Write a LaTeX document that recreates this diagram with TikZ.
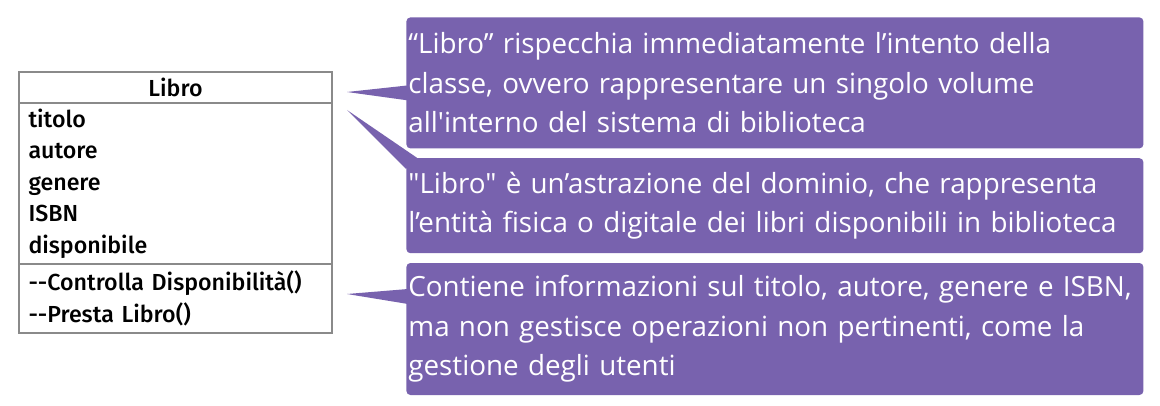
\documentclass[tikz,border=0pt]{standalone}
\usepackage{fontspec}
\usepackage{xcolor}
\usepackage{tikz}
\usetikzlibrary{positioning,calc}
\setmainfont{Open Sans}[Ligatures=TeXOff]
\newfontfamily\umlfont{Fira Sans Medium}[Ligatures=TeXOff]
\definecolor{notepurple}{HTML}{7862AE}
\definecolor{umlline}{HTML}{8A8A8A}

\begin{document}
\begin{tikzpicture}[x=0.5pt,y=-0.5pt,
  umlpart/.style={draw=umlline,line width=0.6pt,outer sep=0pt,minimum width=156.5pt,text width=147pt,inner xsep=4.5pt,inner ysep=0pt,align=left,font=\umlfont\fontsize{11.6}{15.75}\selectfont},
  note/.style={fill=notepurple,rounded corners=2pt,text=white,minimum width=368.5pt,text width=366.5pt,inner xsep=1pt,inner ysep=0pt,align=left,font=\fontsize{13.9}{19.75}\selectfont},
  pointer/.style={fill=notepurple}]
  \useasboundingbox (0,0) rectangle (1160,406);
  % class box
  \node[umlpart,anchor=north west,minimum height=15.5pt,align=center] (head) at (19,72) {Libro};
  \node[umlpart,below=0pt of head,minimum height=80.5pt] (attrs) {titolo\\autore\\genere\\ISBN\\disponibile};
  \node[umlpart,below=0pt of attrs,minimum height=34.5pt] (meths) {--Controlla Disponibilità()\\--Presta Libro()};
  % notes
  \node[note,anchor=north west,minimum height=65.5pt] (note1) at (406,17) {“Libro” rispecchia immediatamente l’intento della\\classe, ovvero rappresentare un singolo volume\\all'interno del sistema di biblioteca};
  \node[note,below=4.5pt of note1,minimum height=47.5pt] (note2) {"Libro" è un’astrazione del dominio, che rappresenta\\l’entità fisica o digitale dei libri disponibili in biblioteca};
  \node[note,below=4.5pt of note2,minimum height=66pt] (note3) {Contiene informazioni sul titolo, autore, genere e ISBN,\\ma non gestisce operazioni non pertinenti, come la\\gestione degli utenti};
  \coordinate (tip1) at (347,92);
  \coordinate (tip2) at (347,110);
  \coordinate (tip3) at (347,294);
  \fill[pointer] (tip1) -- ($(note1.west)+(2,2.5)$) -- ($(note1.west)+(2,17.5)$) -- cycle;
  \fill[pointer] (tip2) -- ($(note2.north west)+(11,0)$) -- ($(note2.north west)+(0,11)$) -- cycle;
  \fill[pointer] (tip3) -- ($(note3.west)+(2,-40)$) -- ($(note3.west)+(2,-25)$) -- cycle;
\end{tikzpicture}
\end{document}
